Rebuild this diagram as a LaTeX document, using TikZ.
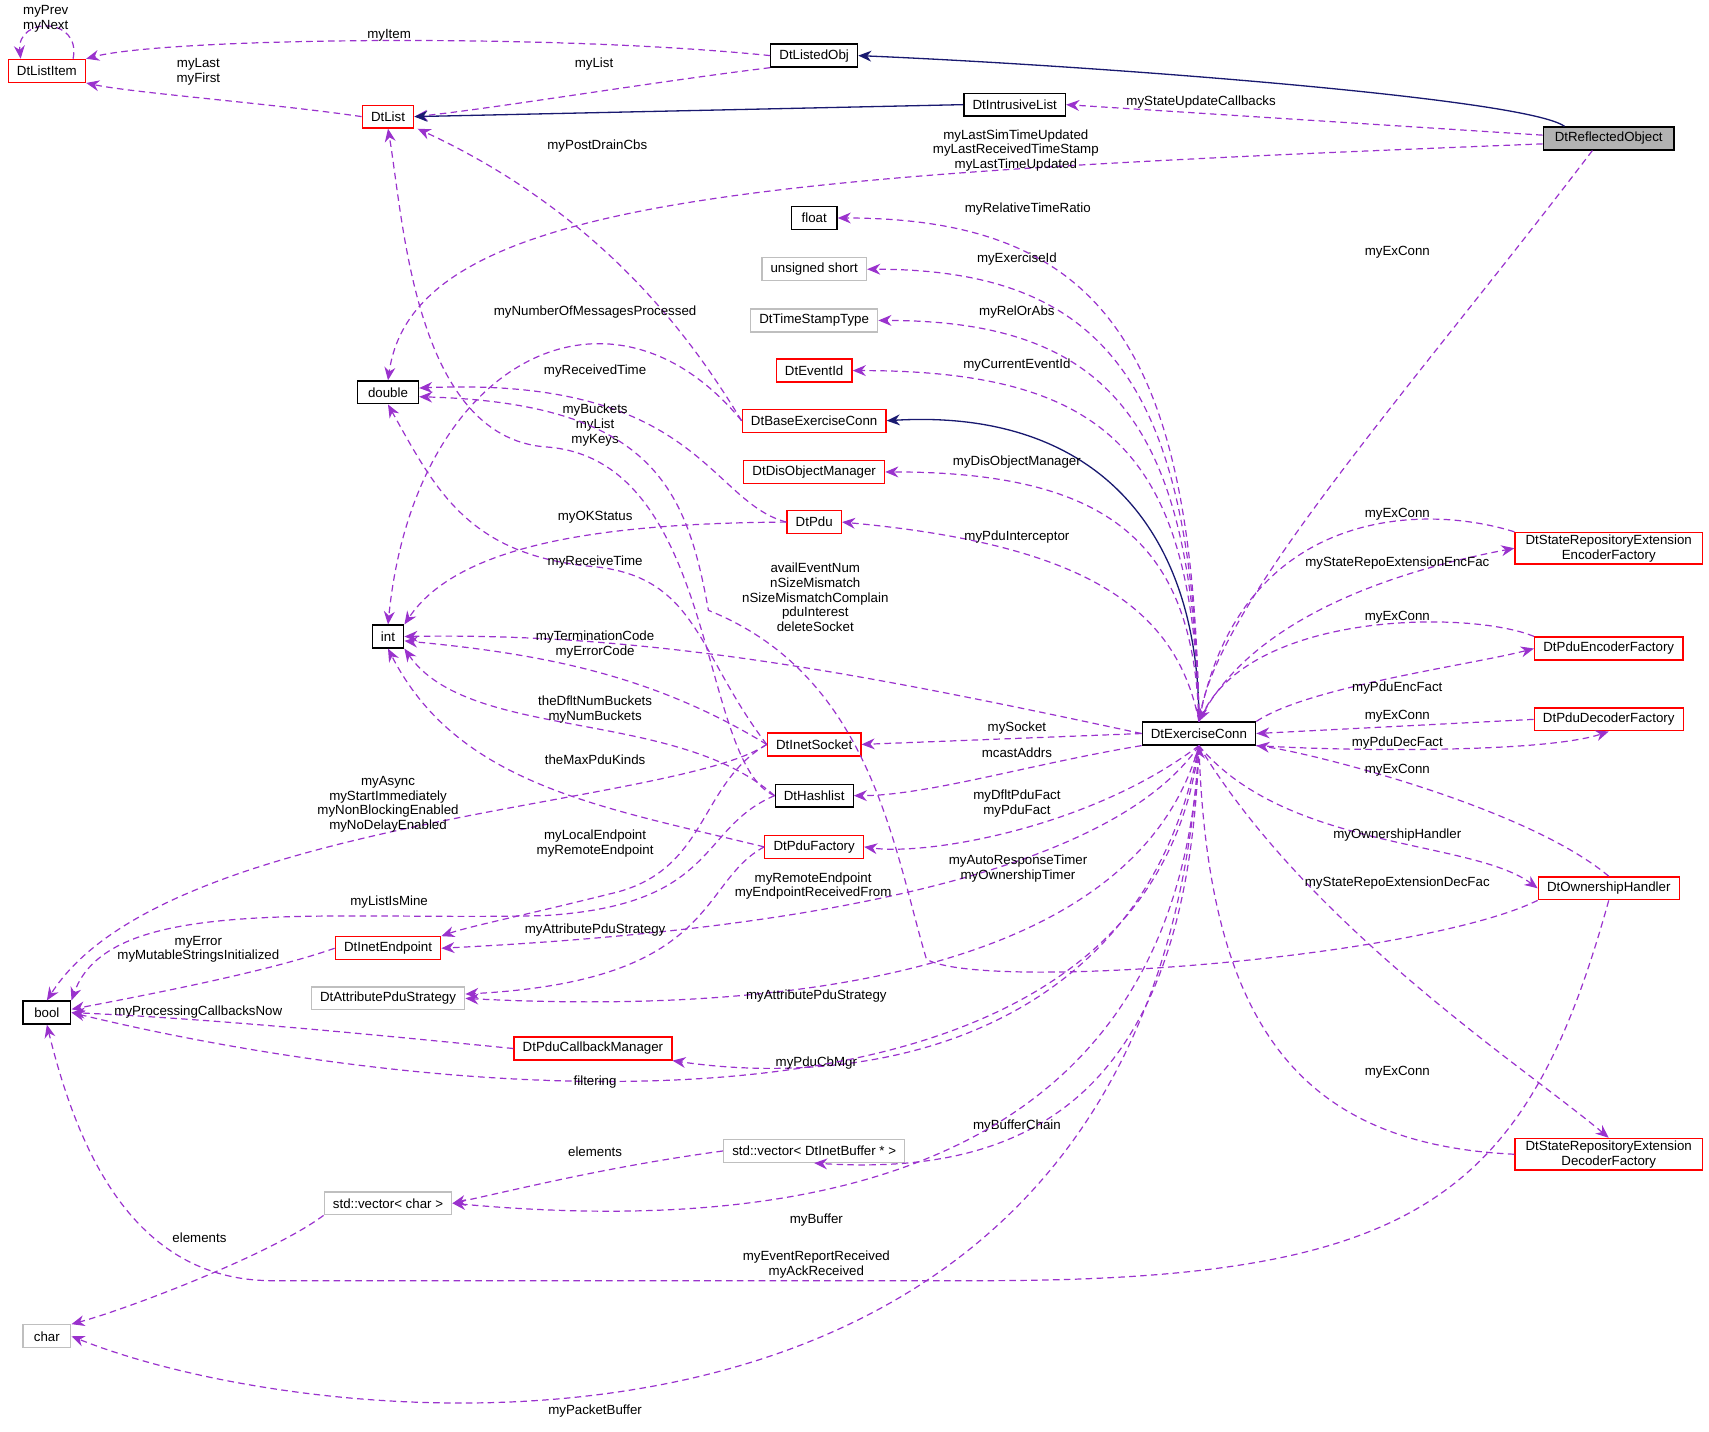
\documentclass[tikz,border=0pt]{standalone}
\usepackage{fontspec}
\setmainfont{Liberation Sans}
\usetikzlibrary{arrows.meta,calc}
\definecolor{pur}{HTML}{9A32CD}
\definecolor{nav}{HTML}{191970}
\definecolor{gry}{HTML}{BFBFBF}
\newcommand{\fs}{\fontsize{6.1}{6.8}\selectfont}
\begin{document}
\begin{tikzpicture}[x=0.5pt,y=-0.5pt,
 box/.style={draw,line width=0.6pt,minimum height=10.5pt,inner xsep=4pt,inner ysep=1pt,font=\fs,align=center},
 rb/.style={box,draw=red},
 gb/.style={box,draw=gry},
 bb/.style={box,draw=black},
 dep/.style={draw=pur,dashed,dash pattern=on 3pt off 2pt,line width=0.55pt,-{Stealth[length=6pt,width=5pt]}},
 inh/.style={draw=nav,line width=0.6pt,-{Stealth[length=6pt,width=5pt]}},
 lb/.style={font=\fs,align=center,inner sep=0pt}]
\useasboundingbox (0,0) rectangle (1568,1313);
% nodes
\node[rb] (li) at (43,65) {DtListItem};
\node[bb] (lo) at (747,51) {DtListedObj};
\node[rb] (dl) at (356,107) {DtList};
\node[bb] (il) at (931,96) {DtIntrusiveList};
\node[bb,fill=gray!60,minimum width=60pt] (ro) at (1476,127) {DtReflectedObject};
\node[bb,minimum width=21pt] (fl) at (747,200) {float};
\node[gb] (us) at (747,247) {unsigned short};
\node[gb] (ts) at (747,294) {DtTimeStampType};
\node[rb] (ei) at (747,340) {DtEventId};
\node[bb,minimum width=28pt] (db) at (356,360) {double};
\node[rb] (be) at (747,386) {DtBaseExerciseConn};
\node[rb] (dm) at (747,433) {DtDisObjectManager};
\node[rb] (pd) at (747,479) {DtPdu};
\node[bb] (in) at (356,584) {int};
\node[rb] (is) at (747,683) {DtInetSocket};
\node[bb] (hl) at (747,730) {DtHashlist};
\node[rb] (pf) at (747,777) {DtPduFactory};
\node[rb] (ie) at (356,870) {DtInetEndpoint};
\node[gb] (ap) at (356,916) {DtAttributePduStrategy};
\node[bb,minimum width=22pt] (bo) at (43,929) {bool};
\node[rb] (cb) at (544,962) {DtPduCallbackManager};
\node[gb] (vb) at (747,1056) {std::vector< DtInetBuffer * >};
\node[gb] (vc) at (356,1104) {std::vector< char >};
\node[gb,minimum width=22pt] (ch) at (43,1226) {char};
\node[bb] (ec) at (1100,673) {DtExerciseConn};
\node[rb,minimum width=86pt] (se) at (1476,503) {DtStateRepositoryExtension\\EncoderFactory};
\node[rb] (pe) at (1476,595) {DtPduEncoderFactory};
\node[rb] (pdf) at (1476,660) {DtPduDecoderFactory};
\node[rb] (oh) at (1476,815) {DtOwnershipHandler};
\node[rb,minimum width=86pt] (sd) at (1476,1059) {DtStateRepositoryExtension\\DecoderFactory};
% top
\draw[dep] (lo.west) .. controls (500,30) and (150,35) .. (li.north east);
\node[lb] at (357,32) {myItem};
\draw[dep] (lo.south west) .. controls (600,75) and (450,100) .. (dl.east);
\node[lb] at (545,59) {myList};
\draw[dep] (dl.west) .. controls (250,95) and (120,85) .. (li.south east);
\node[lb] at (182,66) {myLast\\myFirst};
\draw[dep] ($(li.north east)+(-12,0)$) .. controls (75,15) and (15,15) .. ($(li.north west)+(12,0)$);
\node[lb] at (42,17) {myPrev\\myNext};
\draw[inh] ($(ro.north west)+(20,0)$) .. controls (1400,90) and (1000,60) .. (lo.east);
\draw[inh] (il.west) -- (dl.east);
\draw[dep] ($(ro.west)+(0,-3)$) -- (il.east);
\node[lb] at (1102,94) {myStateUpdateCallbacks};
\draw[dep] ($(ro.west)+(0,5)$) .. controls (700,160) and (380,180) .. (db.north);
\node[lb] at (932,138) {myLastSimTimeUpdated\\myLastReceivedTimeStamp\\myLastTimeUpdated};
\draw[dep] ($(ro.south)+(-15,0)$) .. controls (1300,350) and (1120,550) .. (ec.north);
\node[lb] at (1282,231) {myExConn};
\draw[dep] (be.west) .. controls (640,320) and (560,200) .. ($(dl.south east)+(3,0)$);
\node[lb] at (548,134) {myPostDrainCbs};
\draw[inh] (ec.north) .. controls (1100,480) and (1000,375) .. (be.east);
% right column
\draw[dep] (ec.north) .. controls (1095,330) and (1020,200) .. (fl.east);
\node[lb] at (943,192) {myRelativeTimeRatio};
\draw[dep] (ec.north) .. controls (1095,360) and (1020,247) .. (us.east);
\node[lb] at (933,238) {myExerciseId};
\draw[dep] (ec.north) .. controls (1095,390) and (1020,294) .. (ts.east);
\node[lb] at (933,286) {myRelOrAbs};
\draw[dep] (ec.north) .. controls (1095,420) and (1020,340) .. (ei.east);
\node[lb] at (933,335) {myCurrentEventId};
\draw[dep] (ec.north) .. controls (1095,500) and (1020,433) .. (dm.east);
\node[lb] at (933,424) {myDisObjectManager};
\draw[dep] (ec.north) .. controls (1080,560) and (1000,500) .. (pd.east);
\node[lb] at (933,493) {myPduInterceptor};
\draw[dep] (ec.west) .. controls (800,620) and (600,580) .. (in.east);
\node[lb] at (748,548) {availEventNum\\nSizeMismatch\\nSizeMismatchComplain\\pduInterest\\deleteSocket};
\draw[dep] (ec.west) -- (is.east);
\node[lb] at (933,668) {mySocket};
\draw[dep] (ec.south west) .. controls (950,700) and (850,730) .. (hl.east);
\node[lb] at (933,691) {mcastAddrs};
\draw[dep] (ec.south) .. controls (1000,760) and (850,785) .. (pf.east);
\node[lb] at (933,737) {myDfltPduFact\\myPduFact};
\draw[dep] (ec.south) .. controls (1000,830) and (600,860) .. (ie.east);
\node[lb] at (746,813) {myRemoteEndpoint\\myEndpointReceivedFrom};
\draw[dep] (ec.south) .. controls (1040,900) and (700,930) .. (ap.east);
\node[lb] at (749,914) {myAttributePduStrategy};
\draw[dep] (ec.south) .. controls (1050,950) and (800,1000) .. (cb.south east);
\node[lb] at (749,975) {myPduCbMgr};
\draw[dep] (ec.south) .. controls (1050,1080) and (400,1010) .. (bo.east);
\node[lb] at (546,993) {filtering};
\draw[dep] (ec.south) .. controls (1090,1000) and (950,1080) .. (vb.south);
\node[lb] at (933,1033) {myBufferChain};
\draw[dep] (ec.south) .. controls (1080,1100) and (700,1130) .. (vc.east);
\node[lb] at (749,1119) {myBuffer};
\draw[dep] (ec.south) .. controls (1060,1400) and (300,1320) .. (ch.east);
\node[lb] at (546,1295) {myPacketBuffer};
% middle
\draw[dep] (be.west) .. controls (560,240) and (380,330) .. (in.north);
\node[lb] at (546,286) {myNumberOfMessagesProcessed};
\draw[dep] (pd.west) .. controls (650,460) and (640,345) .. ($(db.east)+(0,-4)$);
\node[lb] at (546,340) {myReceivedTime};
\draw[dep] (hl.west) .. controls (640,700) and (660,420) .. (500,410) .. controls (380,400) and (370,200) .. (dl.south);
\node[lb] at (546,390) {myBuckets\\myList\\myKeys};
\draw[dep] (oh.south west) .. controls (1300,880) and (900,910) .. (850,880) .. controls (820,780) and (800,620) .. (650,560) .. controls (630,450) and (600,370) .. ($(db.east)+(0,4)$);
\node[lb] at (934,797) {myAutoResponseTimer\\myOwnershipTimer};
\draw[dep] (is.west) .. controls (640,600) and (640,530) .. (546,520) .. controls (430,510) and (400,450) .. (db.south);
\node[lb] at (546,516) {myReceiveTime};
\draw[dep] (pd.west) .. controls (550,480) and (420,500) .. (in.north east);
\node[lb] at (546,475) {myOKStatus};
\draw[dep] (is.west) .. controls (600,620) and (500,600) .. ($(in.east)+(0,4)$);
\node[lb] at (546,591) {myTerminationCode\\myErrorCode};
\draw[dep] (hl.west) .. controls (620,650) and (430,680) .. (in.south east);
\node[lb] at (546,651) {theDfltNumBuckets\\myNumBuckets};
\draw[dep] (pf.west) .. controls (550,740) and (420,720) .. (in.south);
\node[lb] at (546,697) {theMaxPduKinds};
\draw[dep] (is.west) .. controls (620,740) and (150,750) .. (bo.north);
\node[lb] at (356,738) {myAsync\\myStartImmediately\\myNonBlockingEnabled\\myNoDelayEnabled};
\draw[dep] (is.west) .. controls (640,720) and (650,800) .. (560,820) .. controls (480,840) and (430,850) .. (ie.north east);
\node[lb] at (546,774) {myLocalEndpoint\\myRemoteEndpoint};
\draw[dep] (hl.west) .. controls (640,760) and (660,830) .. (500,840) .. controls (300,845) and (100,820) .. (bo.north east);
\node[lb] at (357,828) {myListIsMine};
\draw[dep] (pf.west) .. controls (640,810) and (660,900) .. ($(ap.east)+(0,-4)$);
\node[lb] at (546,853) {myAttributePduStrategy};
\draw[dep] (ie.west) .. controls (250,890) and (150,910) .. ($(bo.east)+(0,-3)$);
\node[lb] at (182,871) {myError\\myMutableStringsInitialized};
\draw[dep] (cb.west) .. controls (350,950) and (200,935) .. (bo.east);
\node[lb] at (182,929) {myProcessingCallbacksNow};
\draw[dep] (vb.west) .. controls (560,1070) and (480,1090) .. (vc.east);
\node[lb] at (546,1057) {elements};
\draw[dep] (vc.south west) .. controls (250,1150) and (120,1200) .. (ch.north east);
\node[lb] at (183,1136) {elements};
\draw[dep] (oh.south) .. controls (1400,1100) and (1300,1175) .. (900,1175) -- (250,1175) .. controls (120,1175) and (70,1050) .. (bo.south);
\node[lb] at (749,1160) {myEventReportReceived\\myAckReceived};
% right side
\draw[dep] (se.north west) .. controls (1300,460) and (1140,470) .. (ec.north);
\node[lb] at (1282,472) {myExConn};
\draw[dep] (ec.north) .. controls (1150,560) and (1300,520) .. (se.west);
\node[lb] at (1282,517) {myStateRepoExtensionEncFac};
\draw[dep] (pe.north west) .. controls (1350,560) and (1150,560) .. (ec.north);
\node[lb] at (1282,566) {myExConn};
\draw[dep] (ec.north east) .. controls (1200,630) and (1350,610) .. (pe.west);
\node[lb] at (1282,631) {myPduEncFact};
\draw[dep] (pdf.west) -- (ec.east);
\node[lb] at (1282,657) {myExConn};
\draw[dep] (ec.south east) .. controls (1250,690) and (1420,690) .. (pdf.south);
\node[lb] at (1282,682) {myPduDecFact};
\draw[dep] (oh.north) .. controls (1400,740) and (1200,690) .. (ec.south east);
\node[lb] at (1282,707) {myExConn};
\draw[dep] (ec.south) .. controls (1180,780) and (1350,770) .. (oh.west);
\node[lb] at (1282,766) {myOwnershipHandler};
\draw[dep] (ec.south) .. controls (1200,850) and (1400,980) .. (sd.north);
\node[lb] at (1282,810) {myStateRepoExtensionDecFac};
\draw[dep] (sd.west) .. controls (1200,1050) and (1110,950) .. (ec.south);
\node[lb] at (1282,984) {myExConn};
\end{tikzpicture}
\end{document}
